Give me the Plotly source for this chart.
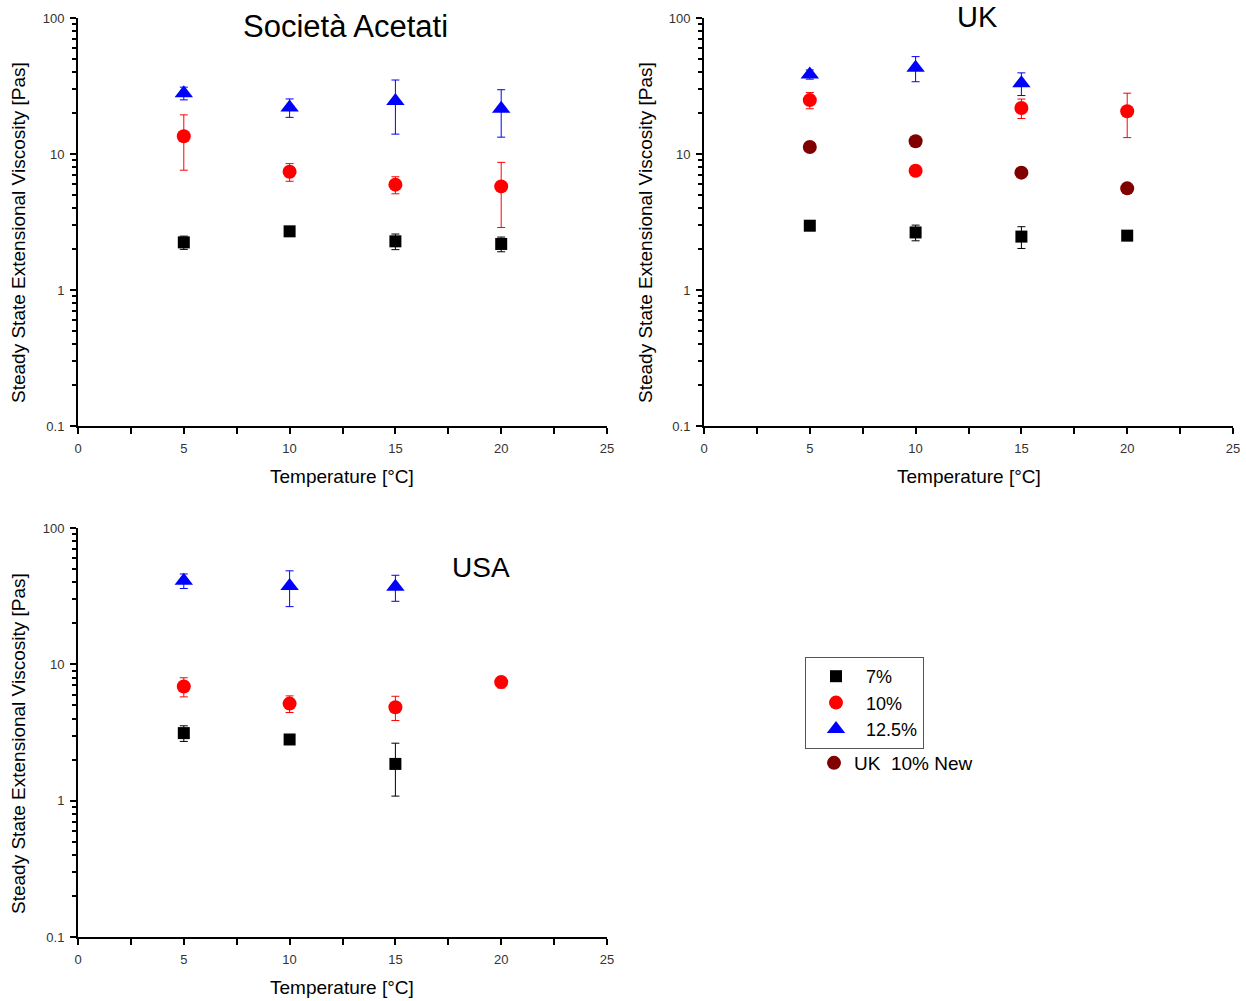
import plotly.graph_objects as go

# ---------------- data ----------------
temps = [5, 10, 15, 20]
temps3 = [5, 10, 15]

sa_7 = [2.24, 2.70, 2.28, 2.18]
sa_7_err = [0.25, 0.10, 0.30, 0.27]
sa_10 = [13.5, 7.4, 5.95, 5.78]
sa_10_err = [5.9, 1.1, 0.85, 2.9]
sa_125 = [28.0, 22.0, 24.5, 21.5]
sa_125_err = [3.0, 3.4, 10.5, 8.2]

uk_7 = [2.97, 2.65, 2.47, 2.51]
uk_7_err = [0.10, 0.35, 0.45, 0.10]
uk_10 = [24.9, 7.54, 21.8, 20.6]
uk_10_err = [3.4, 0.6, 3.55, 7.4]
uk_125 = [38.5, 43.0, 33.2]
uk_125_err = [3.0, 9.0, 6.3]
uk_new = [11.25, 12.4, 7.29, 5.59]

usa_7 = [3.13, 2.81, 1.86]
usa_7_err = [0.41, 0.15, 0.78]
usa_10 = [6.87, 5.15, 4.85, 7.41]
usa_10_err = [1.1, 0.72, 0.98, 0.7]
usa_125 = [41.0, 37.5, 37.0]
usa_125_err = [5.0, 11.0, 8.0]

series_names = ["7%", "10%", "12.5%"]
new_name = "UK  10% New"
panel_titles = ["Società Acetati", "UK", "USA"]
x_title = "Temperature [°C]"
y_title = "Steady State Extensional Viscosity [Pas]"
x_ticks = [0, 5, 10, 15, 20, 25]
y_ticks = [0.1, 1, 10, 100]
y_ticktext = ["0.1", "1", "10", "100"]

# ---------------- styling ----------------
FONT = "Arial, Liberation Sans, sans-serif"
BLACK, RED, BLUE, DARKRED = "#000000", "#ff0000", "#0000ff", "#800000"
styles = [
    dict(color=BLACK, symbol="square", size=12),
    dict(color=RED, symbol="circle", size=14),
    dict(color=BLUE, symbol="triangle-up", size=16),
]

fig = go.Figure()


def add_series(xs, ys, errs, st, name, xa, ya, show):
    fig.add_trace(go.Scatter(
        x=xs, y=ys, mode="markers", name=name,
        marker=dict(color=st["color"], symbol=st["symbol"], size=st["size"],
                    line=dict(width=0)),
        error_y=dict(type="data", array=errs, visible=True,
                     color=st["color"], thickness=1, width=4),
        xaxis=xa, yaxis=ya, showlegend=show, legend="legend",
    ))


# Panel 1
add_series(temps, sa_7, sa_7_err, styles[0], series_names[0], "x", "y", True)
add_series(temps, sa_10, sa_10_err, styles[1], series_names[1], "x", "y", True)
add_series(temps, sa_125, sa_125_err, styles[2], series_names[2], "x", "y", True)

# Panel 2
add_series(temps, uk_7, uk_7_err, styles[0], series_names[0], "x2", "y2", False)
add_series(temps, uk_10, uk_10_err, styles[1], series_names[1], "x2", "y2", False)
add_series(temps3, uk_125, uk_125_err, styles[2], series_names[2], "x2", "y2", False)
fig.add_trace(go.Scatter(
    x=temps, y=uk_new, mode="markers", name=new_name,
    marker=dict(color=DARKRED, symbol="circle", size=14),
    xaxis="x2", yaxis="y2", showlegend=True, legend="legend2",
))

# Panel 3
add_series(temps3, usa_7, usa_7_err, styles[0], series_names[0], "x3", "y3", False)
add_series(temps, usa_10, usa_10_err, styles[1], series_names[1], "x3", "y3", False)
add_series(temps3, usa_125, usa_125_err, styles[2], series_names[2], "x3", "y3", False)

W, H = 1246, 1001


def px_x(p):
    return p / W


def px_y(p):
    return 1 - p / H


domains = {
    "1": ([px_x(78), px_x(607)], [px_y(426), px_y(18)]),
    "2": ([px_x(704), px_x(1233)], [px_y(426), px_y(18)]),
    "3": ([px_x(78), px_x(607)], [px_y(937), px_y(528)]),
}

tickfont = dict(family=FONT, size=13, color="#333333")
layout_axes = {}
for key, (xd, yd) in domains.items():
    sfx = "" if key == "1" else key
    layout_axes["xaxis" + sfx] = dict(
        domain=xd, anchor="y" + sfx, range=[0, 25], tickvals=x_ticks,
        showline=True, linecolor="black", linewidth=2, ticks="outside",
        ticklen=6, tickwidth=2, tickcolor="black", showgrid=False, zeroline=False,
        tickfont=tickfont, ticklabelstandoff=3, automargin=False,
        minor=dict(tickvals=[2.5, 7.5, 12.5, 17.5, 22.5], ticks="outside",
                   ticklen=6, tickwidth=2, tickcolor="black", showgrid=False),
    )
    layout_axes["yaxis" + sfx] = dict(
        domain=yd, anchor="x" + sfx, type="log", range=[-1, 2],
        tickvals=y_ticks, ticktext=y_ticktext,
        showline=True, linecolor="black", linewidth=2, ticks="outside",
        ticklen=6, tickwidth=2, tickcolor="black", showgrid=False, zeroline=False,
        tickfont=tickfont, ticklabelstandoff=3, automargin=False,
        minor=dict(tickvals=[m * d for d in (0.1, 1, 10) for m in range(2, 10)],
                   ticks="outside", ticklen=4, tickwidth=1.5, tickcolor="black",
                   showgrid=False),
    )

annotations = []
# y-axis titles
for cx, cy in [(18, 233), (645, 233), (18, 744)]:
    annotations.append(dict(
        text=y_title, x=px_x(cx), y=px_y(cy), xref="paper", yref="paper",
        showarrow=False, textangle=-90, xanchor="center", yanchor="middle",
        font=dict(family=FONT, size=19, color="black")))
# x-axis titles
for cx, cy in [(342, 476), (969, 476), (342, 987)]:
    annotations.append(dict(
        text=x_title, x=px_x(cx), y=px_y(cy), xref="paper", yref="paper",
        showarrow=False, xanchor="center", yanchor="middle",
        font=dict(family=FONT, size=19, color="black")))
# panel titles
for t, cx, cy, sz in [(panel_titles[0], 345, 27, 31), (panel_titles[1], 977, 17, 29),
                      (panel_titles[2], 481, 567, 28)]:
    annotations.append(dict(
        text=t, x=px_x(cx), y=px_y(cy), xref="paper", yref="paper",
        showarrow=False, xanchor="center", yanchor="middle",
        font=dict(family=FONT, size=sz, color="black")))

fig.update_layout(
    width=W, height=H,
    margin=dict(l=0, r=0, t=0, b=0, autoexpand=False),
    paper_bgcolor="white", plot_bgcolor="white",
    font=dict(family=FONT, color="black"),
    annotations=annotations,
    legend=dict(x=px_x(805), y=px_y(657), xanchor="left", yanchor="top",
                bordercolor="#555555", borderwidth=1, bgcolor="white",
                font=dict(family=FONT, size=18, color="black"),
                itemsizing="trace", itemwidth=50, tracegroupgap=0),
    legend2=dict(x=px_x(814), y=px_y(744), xanchor="left", yanchor="top",
                 borderwidth=0, bgcolor="rgba(0,0,0,0)",
                 font=dict(family=FONT, size=19, color="black"),
                 itemsizing="trace"),
    **layout_axes,
)

fig.write_html("out.html")
